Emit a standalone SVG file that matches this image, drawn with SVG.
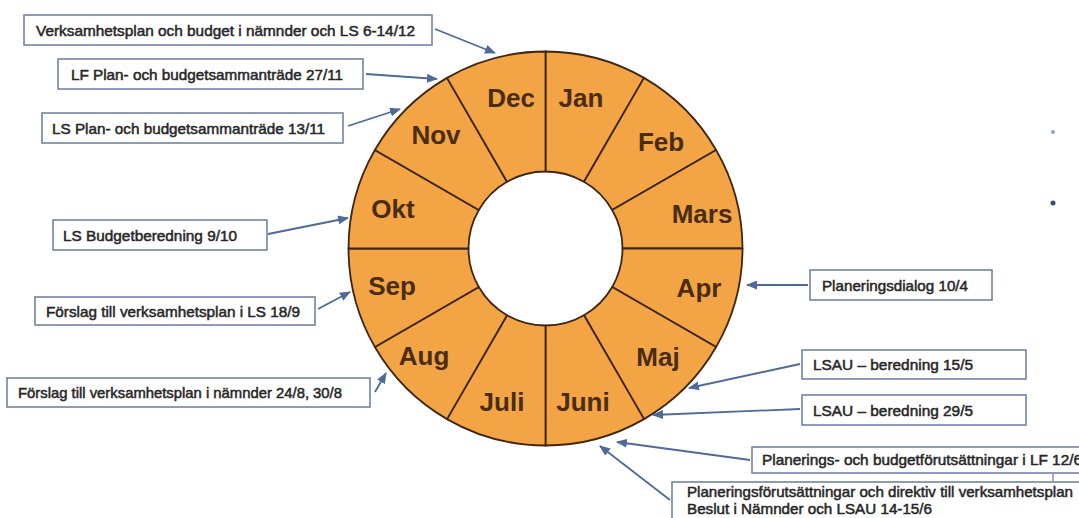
<svg xmlns="http://www.w3.org/2000/svg" width="1079" height="518" viewBox="0 0 1079 518">
<defs>
<marker id="ah" markerUnits="userSpaceOnUse" markerWidth="11" markerHeight="9" refX="10" refY="4.5" orient="auto">
<path d="M0,0 L11,4.5 L0,9 z" fill="#4d6a9b"/>
</marker>
<style>
.seg{fill:#F3A444;stroke:#3e2611;stroke-width:1.8;stroke-linejoin:round}
.mon{font-family:"Liberation Sans",Arial,sans-serif;font-weight:bold;font-size:26px;fill:#4a2c10;text-anchor:middle}
.box{fill:#ffffff;stroke:#6a7b9c;stroke-width:1.5}
.lbl{font-family:"Liberation Sans",Arial,sans-serif;font-size:15px;fill:#262626;stroke:#262626;stroke-width:0.5}
.con{fill:none;stroke:#4d6a9b;stroke-width:1.8;marker-end:url(#ah)}
</style>
</defs>
<rect width="1079" height="518" fill="#ffffff"/>

<g id="wheel">
<g id="m-jan"><path class="seg" d="M545.5,51.5 A197,197 0 0 1 644,77.9 L584,181.8 A77,77 0 0 0 545.5,171.5 Z"/><text class="mon" x="581" y="107">Jan</text></g>
<g id="m-feb"><path class="seg" d="M644,77.9 A197,197 0 0 1 716.1,150 L612.2,210 A77,77 0 0 0 584,181.8 Z"/><text class="mon" x="661" y="151">Feb</text></g>
<g id="m-mars"><path class="seg" d="M716.1,150 A197,197 0 0 1 742.5,248.5 L622.5,248.5 A77,77 0 0 0 612.2,210 Z"/><text class="mon" x="702" y="223">Mars</text></g>
<g id="m-apr"><path class="seg" d="M742.5,248.5 A197,197 0 0 1 716.1,347 L612.2,287 A77,77 0 0 0 622.5,248.5 Z"/><text class="mon" x="699" y="297">Apr</text></g>
<g id="m-maj"><path class="seg" d="M716.1,347 A197,197 0 0 1 644,419.1 L584,315.2 A77,77 0 0 0 612.2,287 Z"/><text class="mon" x="658" y="366">Maj</text></g>
<g id="m-juni"><path class="seg" d="M644,419.1 A197,197 0 0 1 545.5,445.5 L545.5,325.5 A77,77 0 0 0 584,315.2 Z"/><text class="mon" x="583" y="411">Juni</text></g>
<g id="m-juli"><path class="seg" d="M545.5,445.5 A197,197 0 0 1 447,419.1 L507,315.2 A77,77 0 0 0 545.5,325.5 Z"/><text class="mon" x="502" y="411">Juli</text></g>
<g id="m-aug"><path class="seg" d="M447,419.1 A197,197 0 0 1 374.9,347 L478.8,287 A77,77 0 0 0 507,315.2 Z"/><text class="mon" x="424" y="365">Aug</text></g>
<g id="m-sep"><path class="seg" d="M374.9,347 A197,197 0 0 1 348.5,248.5 L468.5,248.5 A77,77 0 0 0 478.8,287 Z"/><text class="mon" x="392" y="295">Sep</text></g>
<g id="m-okt"><path class="seg" d="M348.5,248.5 A197,197 0 0 1 374.9,150 L478.8,210 A77,77 0 0 0 468.5,248.5 Z"/><text class="mon" x="393" y="218">Okt</text></g>
<g id="m-nov"><path class="seg" d="M374.9,150 A197,197 0 0 1 447,77.9 L507,181.8 A77,77 0 0 0 478.8,210 Z"/><text class="mon" x="436" y="144">Nov</text></g>
<g id="m-dec"><path class="seg" d="M447,77.9 A197,197 0 0 1 545.5,51.5 L545.5,171.5 A77,77 0 0 0 507,181.8 Z"/><text class="mon" x="511" y="107">Dec</text></g>
</g>

<g id="n1"><rect class="box" x="24" y="15" width="408" height="30"/><text class="lbl" x="36" y="36" textLength="379" lengthAdjust="spacingAndGlyphs">Verksamhetsplan och budget i nämnder och LS 6-14/12</text></g>
<g id="n2"><rect class="box" x="58" y="59" width="305" height="30"/><text class="lbl" x="71" y="80" textLength="272" lengthAdjust="spacingAndGlyphs">LF Plan- och budgetsammanträde 27/11</text></g>
<g id="n3"><rect class="box" x="42" y="113" width="301" height="30"/><text class="lbl" x="52" y="134" textLength="273" lengthAdjust="spacingAndGlyphs">LS Plan- och budgetsammanträde 13/11</text></g>
<g id="n4"><rect class="box" x="53" y="220" width="214" height="30"/><text class="lbl" x="63" y="241" textLength="174" lengthAdjust="spacingAndGlyphs">LS Budgetberedning 9/10</text></g>
<g id="n5"><rect class="box" x="35" y="297" width="280" height="28"/><text class="lbl" x="46" y="317" textLength="254" lengthAdjust="spacingAndGlyphs">Förslag till verksamhetsplan i LS 18/9</text></g>
<g id="n6"><rect class="box" x="7" y="378" width="363" height="29"/><text class="lbl" x="18" y="398" textLength="324" lengthAdjust="spacingAndGlyphs">Förslag till verksamhetsplan i nämnder 24/8, 30/8</text></g>
<g id="n7"><rect class="box" x="810" y="270" width="182" height="30"/><text class="lbl" x="822" y="291" textLength="146" lengthAdjust="spacingAndGlyphs">Planeringsdialog 10/4</text></g>
<g id="n8"><rect class="box" x="802" y="350" width="224" height="29"/><text class="lbl" x="813" y="370" textLength="160" lengthAdjust="spacingAndGlyphs">LSAU – beredning 15/5</text></g>
<g id="n9"><rect class="box" x="802" y="395" width="224" height="30"/><text class="lbl" x="813" y="416" textLength="160" lengthAdjust="spacingAndGlyphs">LSAU – beredning 29/5</text></g>
<g id="n10"><rect class="box" x="752" y="447" width="340" height="26"/><text class="lbl" x="762" y="465" textLength="320" lengthAdjust="spacingAndGlyphs">Planerings- och budgetförutsättningar i LF 12/6</text></g>
<g id="n11"><rect class="box" x="672" y="482" width="420" height="50"/><text class="lbl" x="687" y="497" textLength="386" lengthAdjust="spacingAndGlyphs">Planeringsförutsättningar och direktiv till verksamhetsplan</text><text class="lbl" x="687" y="514" textLength="245" lengthAdjust="spacingAndGlyphs">Beslut i Nämnder och LSAU 14-15/6</text></g>

<g id="connectors">
<line class="con" x1="435" y1="29" x2="495" y2="53"/>
<line class="con" x1="366" y1="74" x2="437" y2="79"/>
<line class="con" x1="348" y1="126" x2="400" y2="109"/>
<line class="con" x1="268" y1="234" x2="348" y2="218"/>
<line class="con" x1="318" y1="309" x2="350" y2="292"/>
<line class="con" x1="375" y1="392" x2="386" y2="373"/>
<line class="con" x1="808" y1="285" x2="747" y2="285"/>
<line class="con" x1="800" y1="364" x2="689" y2="388"/>
<line class="con" x1="800" y1="409" x2="653" y2="415"/>
<line class="con" x1="750" y1="460" x2="617" y2="442"/>
<line class="con" x1="670" y1="500" x2="600" y2="446"/>
<line x1="1053" y1="473" x2="1053" y2="482" stroke="#7d93bb" stroke-width="1.5"/>
</g>

<circle cx="1053" cy="132" r="2" fill="#8ea3c8"/>
<circle cx="1053" cy="203" r="2.5" fill="#3b4a78"/>
</svg>
